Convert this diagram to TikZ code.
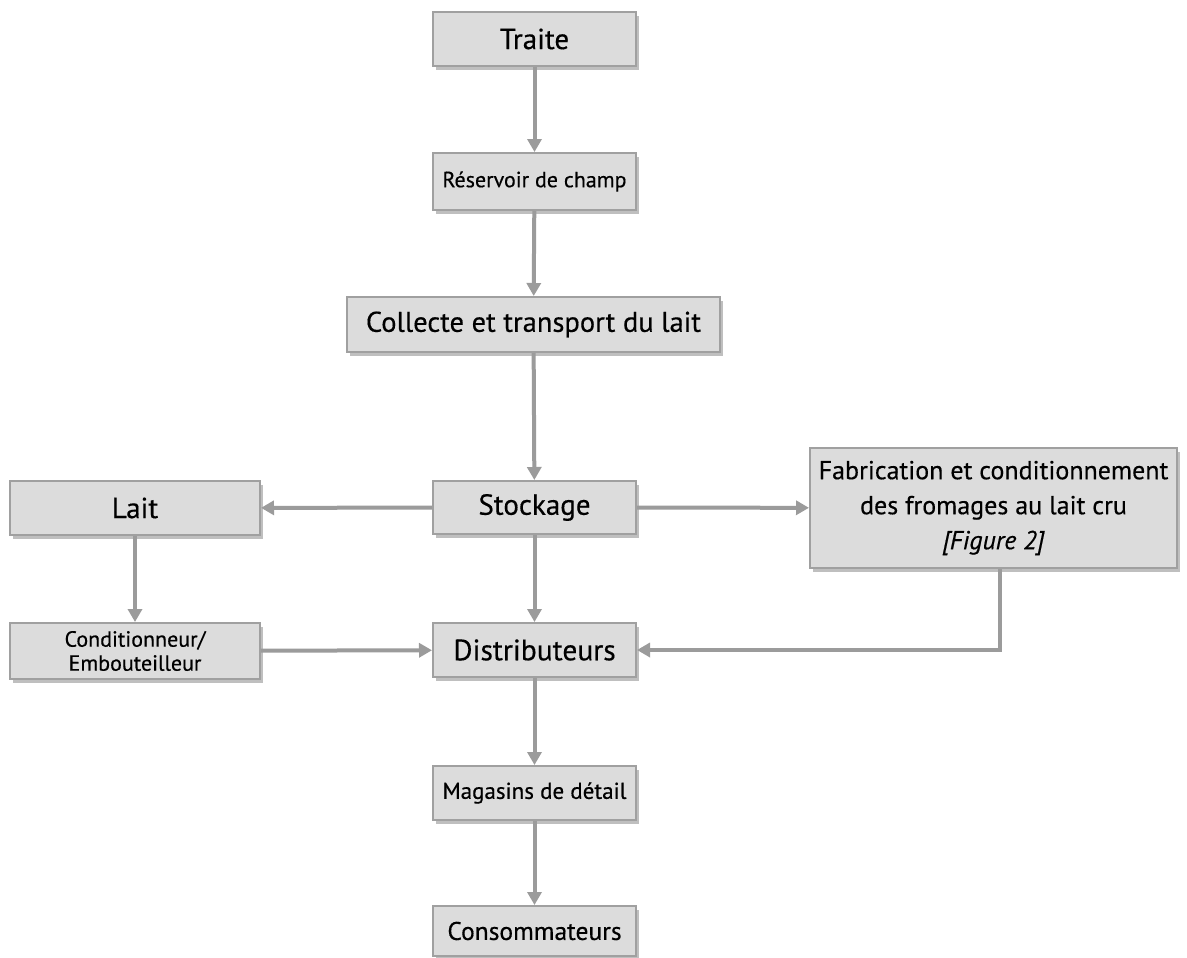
\documentclass[tikz,border=0pt]{standalone}
\usepackage{fontspec}
\setmainfont{PT Sans}[FakeBold=0.4]
\usepackage{tikz}
\usetikzlibrary{positioning, arrows.meta, shadows}
\definecolor{boxfill}{RGB}{220, 220, 220}
\definecolor{boxline}{RGB}{160, 160, 160}
\definecolor{flowgray}{RGB}{155, 155, 155}

\tikzset{
  stage/.style={draw=boxline, line width=2pt, fill=boxfill, align=center,
    inner sep=2pt, minimum width=203pt, minimum height=54pt,
    drop shadow={shadow xshift=3pt, shadow yshift=-4pt, opacity=0.25, fill=black}},
  flow/.style={draw=flowgray, line width=4pt, -{Triangle[length=13pt, width=14pt]}}
}

\begin{document}
\begin{tikzpicture}[x=1pt, y=-1pt]
  \useasboundingbox[fill=white] (0,0) rectangle (1187,958);

  % main chain
  \node[stage, font=\fontsize{29}{32}\selectfont] (traite) at (534.5,39) {Traite};
  \node[stage, minimum height=57pt, font=\fontsize{22}{26}\selectfont] (reservoir) at (534.5,181.5) {Réservoir de champ};
  \node[stage, minimum width=373pt, minimum height=55pt, font=\fontsize{28.5}{32}\selectfont] (collecte) at (533.5,324.5) {Collecte et transport du lait};
  \node[stage, minimum height=53pt, font=\fontsize{29}{32}\selectfont] (stockage) at (534.5,507.5) {Stockage};

  % side branches
  \node[stage, minimum width=250pt, font=\fontsize{29}{32}\selectfont] (lait) at (135,508) {Lait};
  \node[stage, minimum width=367pt, minimum height=120pt, font=\fontsize{26}{35}\selectfont] (fromages) at (993.5,508)
    {Fabrication et conditionnement\\des fromages au lait cru\\\textit{[Figure 2]}};
  \node[stage, minimum width=250pt, minimum height=56pt, font=\fontsize{22}{24}\selectfont] (embout) at (135,651) {Conditionneur/\\Embouteilleur};

  % distribution
  \node[stage, font=\fontsize{29.5}{32}\selectfont] (distrib) at (534.5,650) {Distributeurs};
  \node[stage, font=\fontsize{23}{26}\selectfont] (magasins) at (534.5,793) {Magasins de détail};
  \node[stage, minimum height=50pt, font=\fontsize{25.5}{28}\selectfont] (consomm) at (534.5,931) {Consommateurs};

  \draw[flow] (traite) -- (reservoir);
  \draw[flow] (reservoir) -- (collecte);
  \draw[flow] (collecte) -- (stockage);
  \draw[flow] (stockage) -- (lait);
  \draw[flow] (stockage) -- (fromages);
  \draw[flow] (lait) -- (embout);
  \draw[flow] (stockage) -- (distrib);
  \draw[flow] (embout) -- (distrib);
  \draw[flow] ([xshift=6.5pt]fromages.south) |- (distrib.east);
  \draw[flow] (distrib) -- (magasins);
  \draw[flow] (magasins) -- (consomm);
\end{tikzpicture}
\end{document}
